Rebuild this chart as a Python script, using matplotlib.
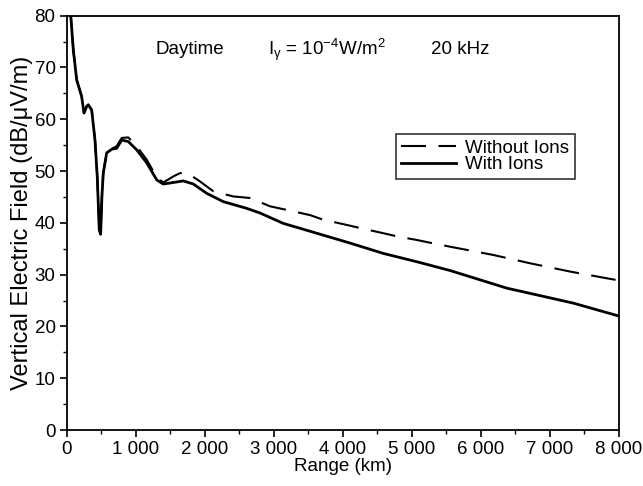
import matplotlib.pyplot as plt
from matplotlib.ticker import MultipleLocator, FuncFormatter

plt.rcParams['font.family'] = 'Liberation Sans'
plt.rcParams['mathtext.fontset'] = 'custom'
plt.rcParams['mathtext.rm'] = 'Liberation Sans'
plt.rcParams['mathtext.it'] = 'Liberation Sans'

# with ions (solid)
x_ions = [30, 58, 96, 145, 217, 251, 290, 313, 362, 410, 443, 472, 492, 510, 530, 579, 650,
          724, 797, 892, 1014, 1159, 1304, 1399, 1550, 1689, 1834, 2028, 2268, 2607, 2800,
          3137, 3621, 4103, 4586, 5069, 5552, 6373, 7338, 8000]
y_ions = [85, 80.2, 73.4, 67.6, 64.4, 61.2, 62.5, 62.8, 61.8, 56, 48.9, 38.6, 37.8, 45, 49.6,
          53.5, 54.2, 54.4, 56, 55.7, 54.1, 51.6, 48.3, 47.5, 47.8, 48.1, 47.5, 45.7, 44.1,
          42.8, 41.9, 39.9, 38.0, 36.1, 34.1, 32.5, 30.8, 27.4, 24.5, 22.0]

# without ions (dashed)
x_noions = [30, 58, 96, 145, 217, 251, 290, 313, 362, 410, 443, 472, 492, 510, 530, 579, 650,
            724, 797, 892, 1014, 1159, 1304, 1399, 1550, 1641, 1750, 1931, 2123, 2413, 2655,
            2945, 3187, 3524, 3717, 4056, 4249, 4586, 4780, 5069, 5359, 5552, 6179, 6710,
            7289, 7822, 7950]
y_noions = [85, 80.2, 73.4, 67.6, 64.4, 61.2, 62.5, 62.8, 61.8, 56, 48.9, 38.8, 38.5, 45,
            49.6, 53.5, 54.3, 54.8, 56.4, 56.5, 54.8, 52.2, 48.8, 47.8, 49.0, 49.6, 49.6, 48.0,
            46.1, 45.1, 44.8, 43.2, 42.5, 41.5, 40.6, 39.6, 39.0, 38.0, 37.4, 36.7, 35.9, 35.4,
            33.8, 32.2, 30.6, 29.3, 29.0]

fs = 13.5

fig = plt.figure(figsize=(6.43, 4.86), dpi=100)
ax = fig.add_axes([0.1037, 0.1152, 0.859, 0.8525])

ax.plot(x_noions, y_noions, color='black', lw=1.5, dashes=(12, 6), label='Without Ions')
ax.plot(x_ions, y_ions, color='black', lw=2.0, label='With Ions')

ax.set_xlim(0, 8000)
ax.set_ylim(0, 80)
ax.xaxis.set_major_locator(MultipleLocator(1000))
ax.xaxis.set_minor_locator(MultipleLocator(500))
ax.yaxis.set_major_locator(MultipleLocator(10))
ax.yaxis.set_minor_locator(MultipleLocator(5))
ax.xaxis.set_major_formatter(FuncFormatter(
    lambda v, p: '{:,}'.format(int(v)).replace(',', ' ')))
ax.tick_params(which='major', direction='out', length=5, width=1.2, labelsize=fs, pad=3)
ax.tick_params(which='minor', direction='out', length=3, width=1.0)
for s in ax.spines.values():
    s.set_linewidth(1.3)

ax.set_xlabel('Range (km)', fontsize=fs, labelpad=0)
ax.set_ylabel('Vertical Electric Field (dB/\u03bcV/m)', fontsize=17, labelpad=1)

ax.text(1786, 73.4, 'Daytime', fontsize=fs, ha='center', va='center')
ax.text(2917, 73.4, r'I$_\gamma$ = 10$^{-4}$W/m$^2$', fontsize=fs, ha='left', va='center')
ax.text(5700, 73.4, '20 kHz', fontsize=fs, ha='center', va='center')

leg = ax.legend(loc='upper right', bbox_to_anchor=(0.920, 0.714), borderaxespad=0,
                fontsize=fs, frameon=True, fancybox=False, handlelength=2.9,
                labelspacing=-0.05, borderpad=0.3, handletextpad=0.5)
leg.get_frame().set_edgecolor('black')
leg.get_frame().set_linewidth(1.2)

fig.savefig('out.png', dpi=100)
